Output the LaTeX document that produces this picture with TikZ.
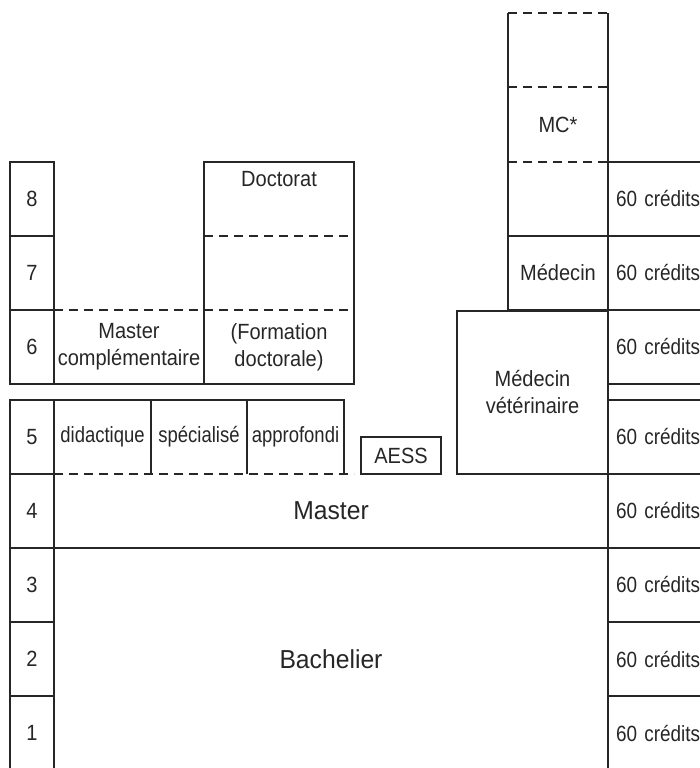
\documentclass[tikz,border=0pt]{standalone}
\usepackage{fontspec}
\setmainfont{Liberation Sans}[FakeStretch=0.91]
\newfontfamily\narrowfont{Liberation Sans}[FakeStretch=0.84]
\newfontfamily\creditfont{Liberation Sans}[FakeStretch=0.86]
\newfontfamily\widefont{Liberation Sans}[FakeStretch=0.95]
\begin{document}
\begin{tikzpicture}[x=1pt, y=-1pt, line width=1.2pt, color=black!85,
    every node/.style={inner sep=0pt, font=\fontsize{22}{27}\selectfont},
    yearbox/.style={draw, minimum width=44pt, minimum height=74pt},
    creditbox/.style={draw, minimum width=112pt, minimum height=74pt,
                      text width=96pt, inner xsep=8pt, align=left,
                      font=\creditfont\fontsize{22}{27}\selectfont},
    dash line/.style={dash pattern=on 9pt off 6pt}]
  \useasboundingbox (0,0) rectangle (700,768);
  % years and credits
  \foreach \y/\n in {199/8, 273/7, 347/6, 437/5, 511/4, 585/3, 659/2, 733/1}
    \node[yearbox] (yr\n) at (32,\y) {\n};
  \foreach \y/\n in {199/8, 273/7, 347/6, 437/5, 511/4, 585/3, 659/2, 733/1}
    \node[creditbox] (cr\n) at (664,\y) {60 crédits};
  % first and second cycle
  \node[draw, minimum width=554pt, minimum height=222pt] (bach) at (331,659)
       {\widefont\fontsize{26}{27}\selectfont Bachelier};
  \node (master) at (331,511) {\widefont\fontsize{26}{27}\selectfont Master};
  \node (did) at (102.5,437) {\narrowfont didactique};
  \node (spe) at (199,437) {\narrowfont spécialisé};
  \node (app) at (295.5,437) {\narrowfont approfondi};
  \draw (54,400) -- (344,400) -- (344,474) (151,400) -- (151,474)
        (247,400) -- (247,474);
  \draw[dash line] (54,474) -- (354,474);
  \node[draw, minimum width=80pt, minimum height=37pt] (aess) at (401,455.5) {AESS};
  % third cycle
  \node[align=center] (mcomp) at (129,347) {Master\\complémentaire};
  \node[align=center] (fdoc) at (279,347) {(Formation\\doctorale)};
  \node[anchor=north] (doct) at (279,171) {Doctorat};
  \draw (204,384) -- (204,162) -- (354,162) -- (354,384) -- (54,384);
  \draw[dash line] (54,310) -- (354,310) (204,236) -- (354,236);
  % medicine
  \node[draw, minimum width=151pt, minimum height=163pt, align=center] (mv)
       at (532.5,392.5) {Médecin\\vétérinaire};
  \node[draw, minimum width=100pt, minimum height=74pt] (med) at (558,273) {Médecin};
  \node (mc) at (558,124.5) {MC*};
  \draw (508,236) -- (508,13) (608,13) -- (608,236);
  \draw[dash line] (508,13) -- (608,13) (508,87) -- (608,87) (508,162) -- (608,162);
\end{tikzpicture}
\end{document}
